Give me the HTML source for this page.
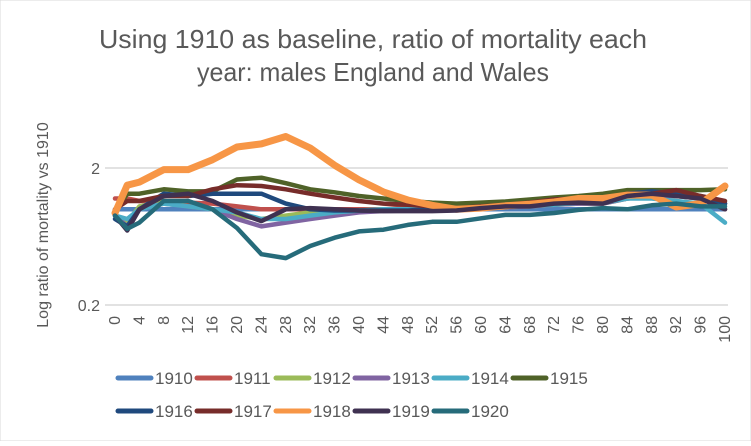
<!DOCTYPE html>
<html><head><meta charset="utf-8"><style>
body{margin:0;background:#fff;font-family:"Liberation Sans",sans-serif;}
svg text{font-family:"Liberation Sans",sans-serif;}
</style></head><body>
<svg id="chart" width="751" height="441" viewBox="0 0 751 441">
<rect x="0" y="0" width="751" height="441" fill="#fff" stroke="#d9d9d9"/>
<text x="373" y="48" text-anchor="middle" font-size="26" fill="#595959" textLength="548" lengthAdjust="spacingAndGlyphs">Using 1910 as baseline, ratio of mortality each</text>
<text x="373" y="81" text-anchor="middle" font-size="26" fill="#595959" textLength="352" lengthAdjust="spacingAndGlyphs">year: males England and Wales</text>
<text transform="translate(48,225) rotate(-90)" text-anchor="middle" font-size="16" fill="#595959">Log ratio of mortality vs 1910</text>
<g id="grid"></g><g id="xticks"></g><g id="series"></g><g id="legend"></g>
</svg>
<script>
const ages=[0,2,4,8,12,16,20,24,28,32,36,40,44,48,52,56,60,64,68,72,76,80,84,88,92,96,100];
const years=["1910","1911","1912","1913","1914","1915","1916","1917","1918","1919","1920"];
const colors=["#4f81bd","#c0504d","#9bbb59","#8064a2","#4bacc6","#4f6228","#1f497d","#772c2a","#f79646","#3f3151","#266b7a"];
const s1910=[1,1,1,1,1,1,1,1,1,1,1,1,1,1,1,1,1,1,1,1,1,1,1,1,1,1,1];
const s1911=[1.2,1.2,1.15,1.15,1.12,1.1,1.05,1.0,1.0,1.0,1.0,1.0,1.0,1.02,1.02,1.02,1.05,1.05,1.08,1.1,1.12,1.12,1.2,1.25,1.3,1.2,1.0];
const s1912=[0.9,0.8,1.05,1.15,1.05,1.0,0.9,0.85,0.9,0.95,0.97,0.98,1.0,1.0,1.0,1.0,1.02,1.03,1.05,1.08,1.1,1.1,1.2,1.25,1.25,1.2,1.1];
const s1913=[0.9,0.75,1.0,1.1,1.05,1.0,0.85,0.75,0.8,0.85,0.9,0.95,0.97,0.98,1.0,1.0,1.02,1.03,1.05,1.08,1.1,1.1,1.2,1.25,1.25,1.2,1.1];
const s1914=[0.9,0.85,1.0,1.1,1.05,1.0,0.95,0.85,0.85,0.9,0.95,0.98,1.0,1.0,1.0,1.0,1.02,1.04,1.06,1.08,1.12,1.12,1.2,1.2,1.15,1.1,0.8];
const s1915=[0.95,1.3,1.3,1.4,1.35,1.35,1.65,1.7,1.55,1.4,1.33,1.25,1.2,1.15,1.12,1.1,1.12,1.14,1.18,1.22,1.25,1.3,1.38,1.38,1.38,1.38,1.4];
const s1916=[0.85,0.75,1.0,1.3,1.25,1.3,1.3,1.3,1.1,1.0,0.98,0.98,0.98,0.98,1.0,1.0,1.02,1.04,1.08,1.12,1.15,1.15,1.3,1.35,1.3,1.25,1.1];
const s1917=[1.0,1.15,1.15,1.25,1.25,1.4,1.5,1.48,1.4,1.3,1.22,1.15,1.1,1.08,1.05,1.02,1.05,1.08,1.12,1.18,1.2,1.2,1.3,1.3,1.38,1.25,1.15];
const s1918=[0.94,1.5,1.58,1.95,1.95,2.3,2.85,3.0,3.4,2.8,2.1,1.64,1.34,1.17,1.07,1.0,1.02,1.06,1.09,1.13,1.2,1.2,1.27,1.27,1.04,1.1,1.48];
const s1919=[0.9,0.7,1.0,1.25,1.3,1.15,0.95,0.82,1.0,1.02,1.0,0.98,0.97,0.97,0.97,0.98,1.02,1.05,1.05,1.1,1.12,1.1,1.25,1.3,1.25,1.2,1.0];
const s1920=[0.9,0.72,0.8,1.15,1.15,1.0,0.73,0.47,0.44,0.54,0.62,0.69,0.71,0.77,0.81,0.81,0.86,0.91,0.91,0.94,0.99,1.02,1.0,1.07,1.1,1.05,1.05];
const allSeries=[s1910,s1911,s1912,s1913,s1914,s1915,s1916,s1917,s1918,s1919,s1920];
const xTicks=[0,4,8,12,16,20,24,28,32,36,40,44,48,52,56,60,64,68,72,76,80,84,88,92,96,100];
const yTicks=[2,0.2];
const NS="http://www.w3.org/2000/svg";
function x(a){return 115+a*6.1;}
function y(r){return 209.3-137*Math.log10(r);}
function mk(t,at,parent){const e=document.createElementNS(NS,t);for(const k in at)e.setAttribute(k,at[k]);parent.appendChild(e);return e;}
const grid=document.getElementById('grid');
yTicks.forEach(v=>{
  const l=mk('line',{x1:105,x2:728,y1:y(v),y2:y(v),stroke:'#d9d9d9','stroke-width':1.5},grid);
  
  
  const t=mk('text',{x:100,y:y(v)+6,'text-anchor':'end','font-size':16,fill:'#595959'},grid);
  t.textContent=v;
  
  
});
const xt=document.getElementById('xticks');
xTicks.forEach(a=>{
  const t=mk('text',{transform:'translate('+(x(a)+5)+',316) rotate(-90)','text-anchor':'end','font-size':16,fill:'#595959'},xt);
  t.textContent=a;
  
  
});
const sg=document.getElementById('series');
allSeries.forEach((s,i)=>{
  const d=s.map((v,j)=>(j?'L':'M')+x(ages[j]).toFixed(1)+','+y(v).toFixed(1)).join(' ');
  const p=mk('path',{d:d,fill:'none',stroke:colors[i],'stroke-width':i==8?7:4.5,'stroke-linejoin':'round','stroke-linecap':'round'},sg);
  
  
});
const lg=document.getElementById('legend');
years.forEach((yr,i)=>{
  const row=i<6?0:1,col=i<6?i:i-6;
  const lx=118+col*79,ly=row?411:378;
  const g=mk('g',{},lg);
  
  
  mk('line',{x1:lx,x2:lx+33,y1:ly,y2:ly,stroke:colors[i],'stroke-width':5,'stroke-linecap':'round'},g);
  const t=mk('text',{x:lx+37,y:ly+6,'font-size':17,fill:'#595959'},g);
  t.textContent=yr;
});
</script>
</body></html>
